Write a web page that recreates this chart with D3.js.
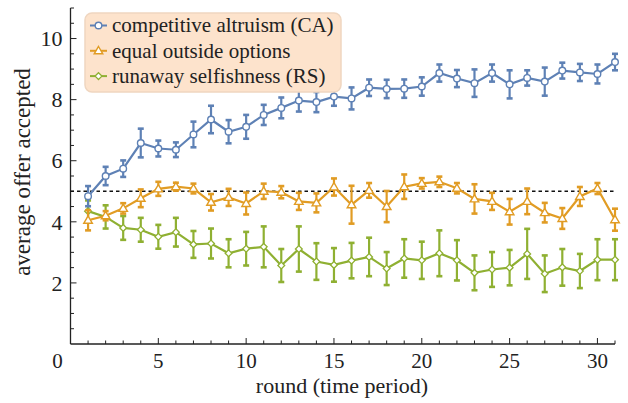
<!DOCTYPE html>
<html>
<head>
<meta charset="utf-8">
<script src="https://cdn.jsdelivr.net/npm/d3@7.9.0/dist/d3.min.js"></script>
<style>
  body { margin: 0; background: #fff; }
  text { font-family: "Liberation Serif", "Times New Roman", serif; fill: #222; }
</style>
</head>
<body>
<script>
// ** Data **
const rounds = d3.range(1, 32);

const caMean = [4.84, 5.50, 5.74, 6.58, 6.40, 6.36, 6.86, 7.35, 6.95, 7.11,
  7.50, 7.73, 7.97, 7.92, 8.10, 8.04, 8.39, 8.35, 8.36, 8.43,
  8.87, 8.69, 8.54, 8.87, 8.50, 8.71, 8.59, 8.95, 8.89, 8.84, 9.23];
const caErr = [0.33, 0.30, 0.27, 0.47, 0.26, 0.24, 0.42, 0.45, 0.38, 0.39,
  0.33, 0.34, 0.36, 0.33, 0.30, 0.36, 0.27, 0.30, 0.30, 0.30,
  0.28, 0.28, 0.45, 0.28, 0.46, 0.25, 0.46, 0.26, 0.28, 0.31, 0.27];

const eqMean = [4.05, 4.20, 4.44, 4.77, 5.08, 5.15, 5.09, 4.64, 4.80, 4.60,
  5.00, 4.97, 4.67, 4.62, 5.14, 4.56, 5.03, 4.50, 5.15, 5.26,
  5.31, 5.10, 4.75, 4.67, 4.33, 4.67, 4.30, 4.11, 4.83, 5.09, 4.07];
const eqErr = [0.33, 0.15, 0.17, 0.29, 0.23, 0.13, 0.16, 0.27, 0.28, 0.36,
  0.25, 0.20, 0.28, 0.31, 0.28, 0.62, 0.24, 0.51, 0.40, 0.17,
  0.17, 0.17, 0.48, 0.28, 0.42, 0.42, 0.32, 0.34, 0.31, 0.18, 0.36];

const rsMean = [4.35, 4.16, 3.80, 3.74, 3.51, 3.66, 3.26, 3.29, 2.97, 3.12,
  3.18, 2.57, 3.11, 2.70, 2.59, 2.73, 2.85, 2.47, 2.80, 2.74,
  2.97, 2.74, 2.33, 2.44, 2.50, 2.95, 2.30, 2.51, 2.39, 2.76, 2.76];
const rsErr = [0.35, 0.38, 0.39, 0.39, 0.39, 0.47, 0.44, 0.49, 0.46, 0.55,
  0.67, 0.54, 0.74, 0.60, 0.55, 0.58, 0.63, 0.54, 0.63, 0.61,
  0.75, 0.66, 0.57, 0.57, 0.58, 0.82, 0.60, 0.60, 0.56, 0.67, 0.67];

const seriesNames = ["competitive altruism (CA)", "equal outside options", "runaway selfishness (RS)"];
const seriesColors = ["#5e81b5", "#e19c24", "#8fb032"];
const seriesShapes = ["circle", "triangle", "diamond"];

const xTicks = [0, 5, 10, 15, 20, 25, 30];
const yTicks = [2, 4, 6, 8, 10];
const referenceLevel = 5;

const series = [
    { name: seriesNames[0], mean: caMean, err: caErr, color: seriesColors[0], shape: seriesShapes[0] },
    { name: seriesNames[1], mean: eqMean, err: eqErr, color: seriesColors[1], shape: seriesShapes[1] },
    { name: seriesNames[2], mean: rsMean, err: rsErr, color: seriesColors[2], shape: seriesShapes[2] }
];

// ** SVG Setup **
const width = 628, height = 403;
const margin = { left: 70.5, right: 13, top: 8, bottom: 59 };

const svg = d3.select("body").append("svg")
    .attr("width", width)
    .attr("height", height);

const x = d3.scaleLinear().domain([0, 31]).range([margin.left, width - margin.right]);
const y = d3.scaleLinear().domain([0, 11]).range([height - margin.bottom, margin.top]);

// ** Axes (frame on left and bottom, ticks pointing inward) **
const axisColor = "#222";
const xAxis = svg.append("g").attr("transform", `translate(0,${y(0)})`);
xAxis.append("line")
    .attr("x1", x(0)).attr("x2", x(31))
    .attr("stroke", axisColor).attr("stroke-width", 1.3);
xAxis.selectAll(".xminor")
    .data(d3.range(1, 32))
    .enter().append("line")
    .attr("x1", d => x(d)).attr("x2", d => x(d))
    .attr("y1", 0).attr("y2", d => d % 5 === 0 ? -6 : -3.5)
    .attr("stroke", axisColor).attr("stroke-width", 1);
xAxis.selectAll(".xlabel")
    .data(xTicks)
    .enter().append("text")
    .attr("x", d => d === 0 ? x(d) - 13 : x(d))
    .attr("y", 24)
    .attr("text-anchor", "middle")
    .style("font-size", "21px")
    .text(d => d);

const yAxis = svg.append("g").attr("transform", `translate(${x(0)},0)`);
yAxis.append("line")
    .attr("y1", y(0)).attr("y2", y(11))
    .attr("stroke", axisColor).attr("stroke-width", 1.3);
yAxis.selectAll(".yminor")
    .data(d3.range(1, 23).map(d => d / 2))
    .enter().append("line")
    .attr("y1", d => y(d)).attr("y2", d => y(d))
    .attr("x1", 0).attr("x2", d => d % 2 === 0 ? 6 : 3.5)
    .attr("stroke", axisColor).attr("stroke-width", 1);
yAxis.selectAll(".ylabel")
    .data(yTicks)
    .enter().append("text")
    .attr("x", -8)
    .attr("y", d => y(d))
    .attr("dy", "0.35em")
    .attr("text-anchor", "end")
    .style("font-size", "22px")
    .text(d => d);

// ** Axis titles **
svg.append("text")
    .attr("x", 342).attr("y", 393)
    .attr("text-anchor", "middle")
    .style("font-size", "22px")
    .text("round (time period)");

svg.append("text")
    .attr("transform", "translate(30,172) rotate(-90)")
    .attr("text-anchor", "middle")
    .style("font-size", "23px")
    .text("average offer accepted");

// ** Reference line at 5 **
svg.append("line")
    .attr("x1", x(0)).attr("x2", x(31))
    .attr("y1", y(referenceLevel)).attr("y2", y(referenceLevel))
    .attr("stroke", "#111").attr("stroke-width", 1.3)
    .attr("stroke-dasharray", "3.5,3");

// ** Marker drawing **
function drawMarker(g, shape, color, cx, cy) {
    if (shape === "circle") {
        g.append("circle").attr("cx", cx).attr("cy", cy).attr("r", 3.3)
            .attr("fill", "#fff").attr("stroke", color).attr("stroke-width", 1.4);
    } else if (shape === "triangle") {
        const s = 4.3;
        g.append("path")
            .attr("d", `M${cx},${cy - s} L${cx + s},${cy + s * 0.7} L${cx - s},${cy + s * 0.7} Z`)
            .attr("fill", "#fff").attr("stroke", color).attr("stroke-width", 1.4);
    } else {
        const s = 3.4;
        g.append("path")
            .attr("d", `M${cx},${cy - s} L${cx + s},${cy} L${cx},${cy + s} L${cx - s},${cy} Z`)
            .attr("fill", "#fff").attr("stroke", color).attr("stroke-width", 1.3);
    }
}

// ** Series: error bars, lines, markers **
const line = d3.line().x((d, i) => x(rounds[i])).y(d => y(d));

series.slice().reverse().forEach(s => {
    const g = svg.append("g");
    rounds.forEach((r, i) => {
        const lo = y(s.mean[i] - s.err[i]), hi = y(s.mean[i] + s.err[i]);
        g.append("line").attr("x1", x(r)).attr("x2", x(r)).attr("y1", lo).attr("y2", hi)
            .attr("stroke", s.color).attr("stroke-width", 2.2);
        [lo, hi].forEach(v => {
            g.append("line").attr("x1", x(r) - 3).attr("x2", x(r) + 3).attr("y1", v).attr("y2", v)
                .attr("stroke", s.color).attr("stroke-width", 2.6);
        });
    });
    g.append("path").datum(s.mean)
        .attr("d", line)
        .attr("fill", "none")
        .attr("stroke", s.color)
        .attr("stroke-width", 2.2);
    rounds.forEach((r, i) => drawMarker(g, s.shape, s.color, x(r), y(s.mean[i])));
});

// ** Legend **
const legend = svg.append("g");
legend.append("rect")
    .attr("x", 85).attr("y", 13).attr("width", 256).attr("height", 79)
    .attr("rx", 7).attr("ry", 7)
    .attr("fill", "#fde3cc").attr("stroke", "#efd6c0").attr("stroke-width", 1.5);

series.forEach((s, i) => {
    const ly = 25.5 + i * 25.3;
    legend.append("line").attr("x1", 90).attr("x2", 107).attr("y1", ly).attr("y2", ly)
        .attr("stroke", s.color).attr("stroke-width", 2);
    drawMarker(legend, s.shape, s.color, 98.5, ly);
    legend.append("text")
        .attr("x", 112).attr("y", ly)
        .attr("dy", "0.33em")
        .style("font-size", "21px")
        .text(s.name);
});
</script>
</body>
</html>
